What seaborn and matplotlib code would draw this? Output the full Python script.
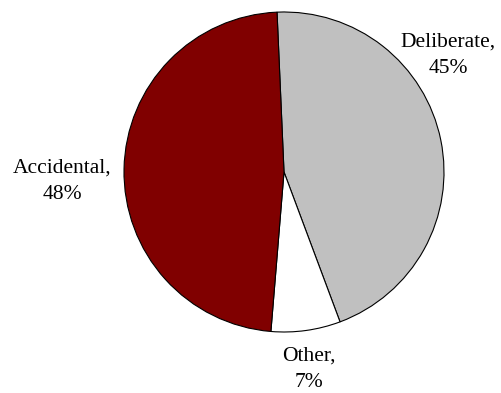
import matplotlib
matplotlib.use("Agg")
import matplotlib.pyplot as plt
import seaborn as sns

categories = ["Deliberate", "Other", "Accidental"]
values = [45, 7, 48]
colors = ["#C0C0C0", "#FFFFFF", "#800000"]

sns.set_theme(style="white")
plt.rcParams['font.family'] = ['Liberation Serif', 'DejaVu Serif']

fig = plt.figure(figsize=(5.02, 3.93), dpi=100)
ax = fig.add_axes([0, 0, 1, 1])
wedges, _ = ax.pie(values, colors=colors, startangle=92.5, counterclock=False,
                   wedgeprops=dict(edgecolor="black", linewidth=0.8))
ax.set_xlim(-284/160, (502-284)/160)
ax.set_ylim(-(393-172)/160, 172/160)
ax.set_aspect('auto')
ax.axis('off')

label_pos = {"Deliberate": (1.028, 0.73), "Other": (0.156, -1.235), "Accidental": (-1.384, -0.06)}
for cat, val in zip(categories, values):
    x, y = label_pos[cat]
    ax.text(x, y, f"{cat},\n{val}%", ha="center", va="center", fontsize=15.5,
            linespacing=1.55, color="black")

fig.savefig("out.png", dpi=100)
